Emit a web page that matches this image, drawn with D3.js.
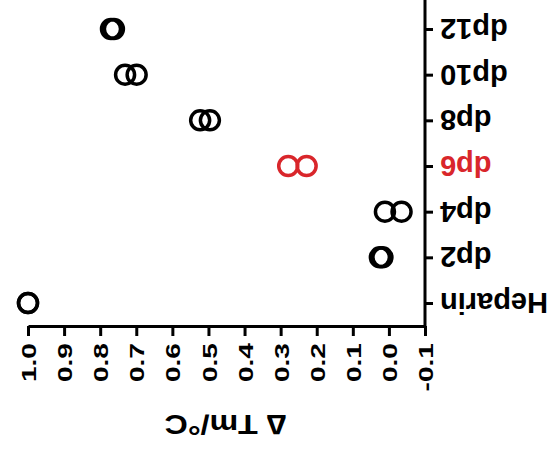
<!DOCTYPE html>
<html>
<head>
<meta charset="utf-8">
<script src="https://cdn.jsdelivr.net/npm/d3@7/dist/d3.min.js"></script>
<style>
  html, body { margin: 0; padding: 0; background: #fff; }
  svg { display: block; }
  text { font-family: "Liberation Sans", Arial, Helvetica, sans-serif; font-weight: bold; }
</style>
</head>
<body>
<svg id="chart" width="554" height="452"></svg>
<script>
// Categories (top to bottom as drawn) and replicate ΔTm values
const categories = ["dp12", "dp10", "dp8", "dp6", "dp4", "dp2", "Heparin"];
const repA = [0.770, 0.731, 0.523, 0.279, 0.011, 0.025, 1.0];
const repB = [0.762, 0.699, 0.496, 0.228, -0.035, 0.018, 1.0];
const highlight = ["dp6"];

const xTickValues = [1.0, 0.9, 0.8, 0.7, 0.6, 0.5, 0.4, 0.3, 0.2, 0.1, 0.0, -0.1];
const xTickLabels = ["1.0", "0.9", "0.8", "0.7", "0.6", "0.5", "0.4", "0.3", "0.2", "0.1", "0.0", "-0.1"];
const axisTitle = "\u2206 Tm/\u00B0C";

const black = "#000000";
const red = "#d9262b";

// Layout: the figure is presented rotated by 180°, so the value axis runs
// right-to-left along the bottom and the category axis sits on the right.
const plotTop = 0;
const axisY = 326;   // x-axis baseline
const axisX = 425;   // y-axis line

const svg = d3.select("#chart");

const x = d3.scaleLinear().domain([1.0, -0.1]).range([28, axisX]);
const y = d3.scalePoint().domain(categories).range([29, 303]);

// Value axis
const xAxis = svg.append("g")
  .attr("transform", `translate(0,${axisY})`)
  .call(d3.axisBottom(x)
    .tickValues(xTickValues)
    .tickFormat((d, i) => xTickLabels[i])
    .tickSize(10)
    .tickSizeOuter(0));

xAxis.select(".domain").attr("stroke", black).attr("stroke-width", 3);
xAxis.selectAll(".tick line").attr("stroke", black).attr("stroke-width", 3);
xAxis.selectAll(".tick text")
  .attr("x", 0).attr("y", 0).attr("dy", "0.36em")
  .attr("text-anchor", "end")
  .attr("font-size", 21)
  .attr("fill", black)
  .attr("transform", "translate(0,17) rotate(-90) scale(1.34,1)");

// Category axis
const yAxis = svg.append("g")
  .attr("transform", `translate(${axisX},0)`)
  .call(d3.axisRight(y).tickSize(8).tickSizeOuter(0));

yAxis.select(".domain").remove();
yAxis.append("line")
  .attr("x1", 0).attr("x2", 0)
  .attr("y1", plotTop - 2).attr("y2", axisY + 1.5)
  .attr("stroke", black).attr("stroke-width", 3);
yAxis.selectAll(".tick line").attr("stroke", black).attr("stroke-width", 3);
yAxis.selectAll(".tick text")
  .attr("x", 0).attr("y", 0).attr("dy", "0.36em")
  .attr("text-anchor", "end")
  .attr("font-size", 29)
  .attr("fill", d => highlight.includes(d) ? red : black)
  .attr("transform", "translate(15,0) rotate(180)");

// Replicate points as open circles
const points = [];
categories.forEach((c, i) => {
  points.push({ cat: c, v: repA[i] });
  points.push({ cat: c, v: repB[i] });
});

svg.append("g")
  .selectAll("circle")
  .data(points)
  .join("circle")
  .attr("cx", d => x(d.v))
  .attr("cy", d => y(d.cat))
  .attr("r", 9.5)
  .attr("fill", "none")
  .attr("stroke", d => highlight.includes(d.cat) ? red : black)
  .attr("stroke-width", 3.5);

// Axis title
svg.append("text")
  .attr("x", 0).attr("y", 0).attr("dy", "0.36em")
  .attr("text-anchor", "middle")
  .attr("font-size", 28)
  .attr("fill", black)
  .attr("transform", `translate(${(x(1.0) + x(-0.1)) / 2 - 1},425) rotate(180) scale(1.15,1)`)
  .text(axisTitle);
</script>
</body>
</html>
